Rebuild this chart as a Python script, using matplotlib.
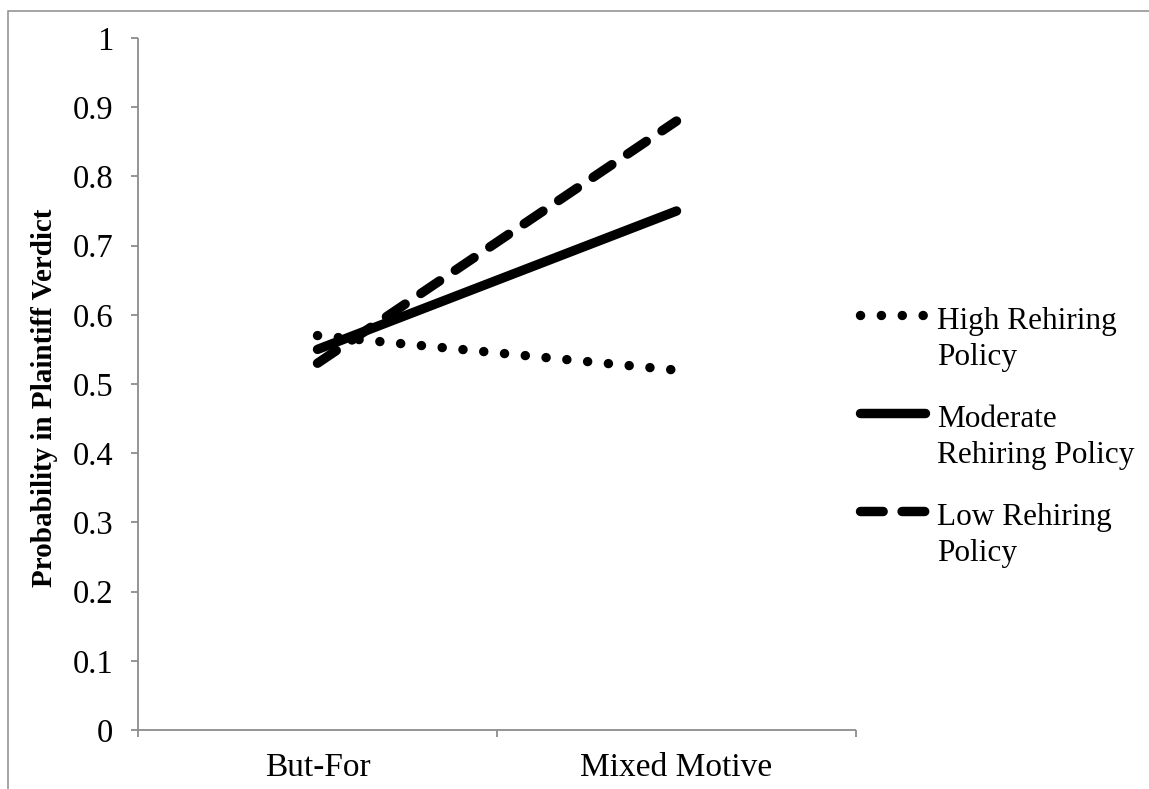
import matplotlib
matplotlib.use('Agg')
import matplotlib.pyplot as plt
from matplotlib.lines import Line2D
from matplotlib.patches import Rectangle

plt.rcParams['font.family'] = ['Liberation Serif', 'DejaVu Serif']

categories = ['But-For', 'Mixed Motive']
high_rehiring = [0.57, 0.52]
moderate_rehiring = [0.55, 0.75]
low_rehiring = [0.53, 0.88]
legend_labels = ['High Rehiring\nPolicy', 'Moderate\nRehiring Policy', 'Low Rehiring\nPolicy']
yticks = [0, 0.1, 0.2, 0.3, 0.4, 0.5, 0.6, 0.7, 0.8, 0.9, 1]

W, H = 1149, 789
fig = plt.figure(figsize=(W / 100, H / 100), dpi=100)
ax = fig.add_axes([138 / W, 1 - 730 / H, (856 - 138) / W, (730 - 38) / H])

# outer chart border (runs off the right and bottom edge)
fig.add_artist(Rectangle((8 / W, -0.1), 1.2, 1 - 11 / H + 0.1, transform=fig.transFigure,
                         fill=False, edgecolor='#8c8c8c', linewidth=1.1))

lw = 6.8
styles = [
    dict(linestyle=(0, (0.01, 2.2)), dash_capstyle='round'),
    dict(linestyle='-', solid_capstyle='round'),
    dict(linestyle=(0, (2.4, 2.0)), dash_capstyle='round'),
]
series = [high_rehiring, moderate_rehiring, low_rehiring]
x = list(range(len(categories)))
for vals, st in zip(series, styles):
    ax.plot(x, vals, color='black', linewidth=lw, **st)

ax.set_xlim(-0.5, 1.5)
ax.set_ylim(0, 1)
ax.set_yticks(yticks)
ax.set_yticklabels(['0' if v == 0 else ('1' if v == 1 else f'{v:g}') for v in yticks])
ax.set_xticks([-0.5, 0.5, 1.5])
ax.set_xticklabels([])
ax.set_xticks(x, minor=True)
ax.set_xticklabels(categories, minor=True)

for s in ['top', 'right']:
    ax.spines[s].set_visible(False)
for s in ['left', 'bottom']:
    ax.spines[s].set_color('#8c8c8c')
    ax.spines[s].set_linewidth(1.3)
    ax.spines[s].set_capstyle('butt')

ax.tick_params(axis='y', which='major', length=5, width=1.3, color='#8c8c8c',
               labelsize=23.5, pad=13)
ax.tick_params(axis='x', which='major', length=5, width=1.3, color='#8c8c8c')
ax.tick_params(axis='x', which='minor', length=0, labelsize=24, pad=16)

fig.text(45 / W, 1 - 398 / H, 'Probability in Plaintiff Verdict', rotation=90,
         fontsize=21, fontweight='bold', ha='center', va='center')

# legend drawn by hand so the handle sits beside the first text line
leg_y = [315, 413, 511]
for lab, st, yy in zip(legend_labels, styles, leg_y):
    fig.add_artist(Line2D([860 / W, 925 / W], [1 - yy / H, 1 - yy / H], transform=fig.transFigure,
                          color='black', linewidth=lw, **st))
    fig.text(937 / W, 1 - (yy - 8) / H, lab, fontsize=22.5, ha='left', va='top',
             linespacing=1.32)

fig.savefig('out.png', dpi=100)
